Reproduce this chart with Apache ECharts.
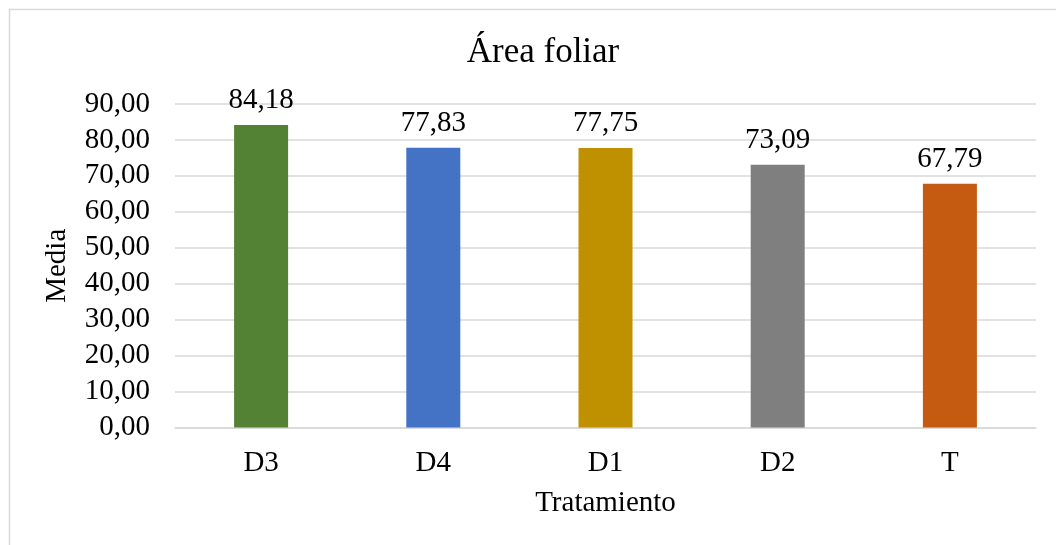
<!DOCTYPE html>
<html>
<head>
<meta charset="utf-8">
<script src="https://cdn.jsdelivr.net/npm/echarts@6/dist/echarts.min.js"></script>
<style>
  html, body { margin: 0; padding: 0; background: #ffffff; }
  #chart { width: 1056px; height: 545px; }
</style>
</head>
<body>
<div id="chart"></div>
<script>
// Treatments and mean leaf area per treatment
const categories = ['D3', 'D4', 'D1', 'D2', 'T'];
const values = [84.18, 77.83, 77.75, 73.09, 67.79];
const barColors = ['#548235', '#4472C4', '#BF9000', '#7F7F7F', '#C55A11'];
const yTicks = { min: 0, max: 90, interval: 10 };

const FONT = '"Liberation Serif", "Times New Roman", serif';
const TXT = 29;
const fmt = v => v.toFixed(2).replace('.', ',');

const chart = echarts.init(document.getElementById('chart'), null, { renderer: 'canvas' });

chart.setOption({
  backgroundColor: '#ffffff',
  animation: false,
  title: {
    text: 'Área foliar',
    left: 538,
    top: 30,
    textAlign: 'center',
    textStyle: { fontFamily: FONT, fontSize: 35, fontWeight: 'normal', color: '#000000' }
  },
  graphic: [{
    type: 'rect',
    shape: { x: 9.5, y: 9.5, width: 1200, height: 700 },
    style: { fill: 'none', stroke: '#d9d9d9', lineWidth: 1.5 },
    silent: true
  }],
  grid: { left: 175, right: 20, top: 104, bottom: 117.5, containLabel: false },
  xAxis: {
    type: 'category',
    data: categories,
    name: 'Tratamiento',
    nameLocation: 'middle',
    nameGap: 61,
    nameTextStyle: { fontFamily: FONT, fontSize: TXT, color: '#000000' },
    axisLine: { lineStyle: { color: '#d9d9d9', width: 1.5 } },
    axisTick: { show: false },
    axisLabel: { fontFamily: FONT, fontSize: TXT, color: '#000000', margin: 21 }
  },
  yAxis: {
    type: 'value',
    min: yTicks.min,
    max: yTicks.max,
    interval: yTicks.interval,
    name: 'Media',
    nameLocation: 'middle',
    nameGap: 103,
    nameRotate: 90,
    nameTextStyle: { fontFamily: FONT, fontSize: TXT, color: '#000000' },
    axisLine: { show: false },
    axisTick: { show: false },
    axisLabel: { fontFamily: FONT, fontSize: TXT, color: '#000000', margin: 25, formatter: fmt },
    splitLine: { lineStyle: { color: '#d9d9d9', width: 1.5 } }
  },
  series: [{
    type: 'bar',
    data: values.map((v, i) => ({ value: v, itemStyle: { color: barColors[i] } })),
    barWidth: 54,
    label: {
      show: true,
      position: 'top',
      distance: 10,
      fontFamily: FONT,
      fontSize: TXT,
      color: '#000000',
      formatter: p => fmt(p.value)
    }
  }]
});
</script>
</body>
</html>
